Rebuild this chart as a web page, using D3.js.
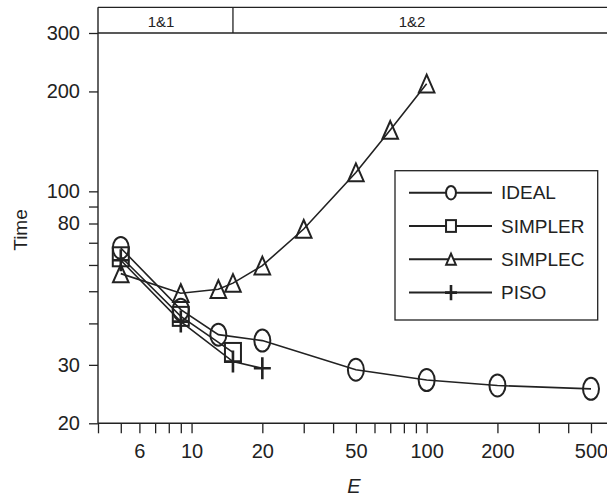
<!DOCTYPE html>
<html><head><meta charset="utf-8">
<script src="https://cdn.jsdelivr.net/npm/d3@7"></script>
<style>body{margin:0;background:#fff}svg{display:block}text{font-family:"Liberation Sans",Arial,sans-serif;fill:#222}</style>
</head><body><svg id="c" width="607" height="497"></svg>
<script>
const xMajor = [6, 10, 20, 50, 100, 200, 500];
const xMinor = [4, 5, 7, 8, 9, 30, 40, 60, 70, 80, 90, 300, 400];
const yMajor = [20, 30, 80, 100, 200, 300];
const yMinor = [40, 50, 60, 70, 90];
const regions = ["1&1", "1&2"];
const regionSplit = 15;

const E_ideal = [5, 9, 13, 20, 50, 100, 200, 500];
const T_ideal = [67.5, 44, 37, 35.5, 29, 27, 26, 25.4];
const E_simpler = [5, 9, 15];
const T_simpler = [63.5, 42, 32.7];
const E_simplec = [5, 9, 13, 15, 20, 30, 50, 70, 100];
const T_simplec = [56.5, 49.3, 50.7, 52.9, 59.7, 77, 114, 153, 211];
const E_piso = [5, 9, 15, 20];
const T_piso = [62, 40.5, 30.7, 29.3];
const names = ["IDEAL", "SIMPLER", "SIMPLEC", "PISO"];

const col = "#222";
const svg = d3.select("#c");
const x = d3.scaleLog().domain([4, 600]).range([98, 609.6]);
const y = d3.scaleLog().domain([20, 300]).range([423.3, 33]);
const headTop = 7.3;

// header band
svg.append("line").attr("x1", 98).attr("x2", 610).attr("y1", headTop).attr("y2", headTop).attr("stroke", col).attr("stroke-width", 1.3);
svg.append("line").attr("x1", 98).attr("x2", 610).attr("y1", y(300)).attr("y2", y(300)).attr("stroke", col).attr("stroke-width", 1.3);
svg.append("line").attr("x1", x(regionSplit)).attr("x2", x(regionSplit)).attr("y1", headTop).attr("y2", y(300)).attr("stroke", col).attr("stroke-width", 1.3);
svg.append("text").attr("x", 161).attr("y", 26.5).attr("text-anchor", "middle").style("font-size", "15px").text(regions[0]);
svg.append("text").attr("x", 412).attr("y", 26.5).attr("text-anchor", "middle").style("font-size", "15px").text(regions[1]);

// axes
const xAxis = d3.axisBottom(x).tickValues(xMajor.concat(xMinor))
  .tickFormat(d => xMajor.includes(d) ? d : "").tickSize(10).tickSizeOuter(0).tickPadding(6);
const gx = svg.append("g").attr("transform", `translate(0,${y(20)})`).call(xAxis);
gx.select(".domain").attr("d", `M98,0H610`).attr("stroke", col).attr("stroke-width", 1.4);
gx.selectAll(".tick line").attr("stroke", col).attr("stroke-width", 1.3);
gx.selectAll(".tick text").style("font-size", "20px").attr("fill", col).attr("dy", "0.93em");

const yAxis = d3.axisLeft(y).tickValues(yMajor.concat(yMinor))
  .tickFormat(d => yMajor.includes(d) ? d : "").tickSize(9).tickSizeOuter(0).tickPadding(9);
const gy = svg.append("g").attr("transform", `translate(98,0)`).call(yAxis);
gy.select(".domain").attr("d", `M0,${headTop}V${y(20)}`).attr("stroke", col).attr("stroke-width", 1.4);
gy.selectAll(".tick line").attr("stroke", col).attr("stroke-width", 1.3);
gy.selectAll(".tick text").style("font-size", "20px").attr("fill", col);

svg.append("text").attr("transform", "translate(27,230) rotate(-90)").attr("text-anchor", "middle").style("font-size", "19px").style("fill", col).text("Time");
svg.append("text").attr("x", 354).attr("y", 493).attr("text-anchor", "middle").style("font-size", "20px").style("font-style", "italic").text("E");

// marker drawing
function marker(g, type, cx, cy, s, fill) {
  if (type === 0) {
    g.append("ellipse").attr("cx", cx).attr("cy", cy).attr("rx", 8 * s).attr("ry", 11 * s)
      .attr("fill", fill).attr("stroke", col).attr("stroke-width", 2);
  } else if (type === 1) {
    g.append("rect").attr("x", cx - 8 * s).attr("y", cy - 9.5 * s).attr("width", 16 * s).attr("height", 19 * s)
      .attr("fill", fill).attr("stroke", col).attr("stroke-width", 2);
  } else if (type === 2) {
    g.append("path").attr("d", `M${cx},${cy - 9 * s}L${cx + 7.8 * s},${cy + 8.7 * s}L${cx - 7.8 * s},${cy + 8.7 * s}Z`)
      .attr("fill", fill).attr("stroke", col).attr("stroke-width", 2);
  } else {
    g.append("path").attr("d", `M${cx - 8.5 * s},${cy}H${cx + 8.5 * s}M${cx},${cy - 11 * s}V${cy + 11 * s}`)
      .attr("fill", "none").attr("stroke", col).attr("stroke-width", 2.6);
  }
}

const series = [[E_ideal, T_ideal], [E_simpler, T_simpler], [E_simplec, T_simplec], [E_piso, T_piso]];
const line = d3.line().x(d => x(d[0])).y(d => y(d[1]));
series.forEach((s, i) => {
  const pts = s[0].map((e, k) => [e, s[1][k]]);
  const g = svg.append("g");
  g.append("path").attr("d", line(pts)).attr("fill", "none").attr("stroke", col).attr("stroke-width", 1.6);
  pts.forEach(p => marker(g, i, x(p[0]), y(p[1]), 1, "none"));
});

// legend
const lg = svg.append("g");
lg.append("rect").attr("x", 395).attr("y", 170.7).attr("width", 202.7).attr("height", 149.3)
  .attr("fill", "#fff").attr("stroke", col).attr("stroke-width", 1.3);
names.forEach((n, i) => {
  const ry = 192.7 + i * 33.3;
  lg.append("line").attr("x1", 409).attr("x2", 492).attr("y1", ry).attr("y2", ry).attr("stroke", col).attr("stroke-width", 2);
  marker(lg, i, 451, ry, i === 3 ? 0.7 : 0.62, "#fff");
  lg.append("text").attr("x", 501).attr("y", ry).attr("dy", "0.35em").style("font-size", "19px").text(n);
});
</script></body></html>
